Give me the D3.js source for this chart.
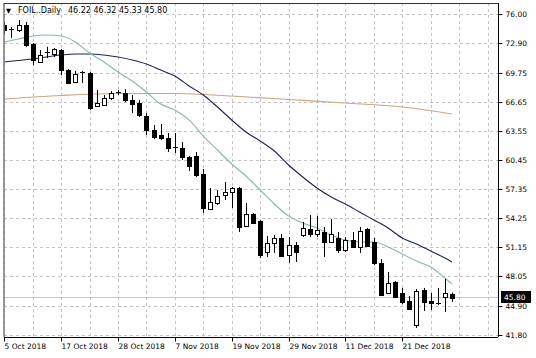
<!DOCTYPE html>
<html><head><meta charset="utf-8">
<script src="https://cdn.jsdelivr.net/npm/d3@7"></script>
<style>
body{margin:0;background:#fff}
svg{display:block}
text{font-family:"DejaVu Sans",sans-serif;font-size:7.5px;fill:#000}
</style></head>
<body><svg id="c" width="536" height="358"></svg>
<script>
// ---- data ----
const symbolTitle = "FOIL..Daily";
const lastQuote = ["46.22", "46.32", "45.33", "45.80"];
const openP  = [74.8,74.4,74.3,74.83,72.8,70.89,71.9,71.74,72.16,70.03,68.76,69.8,69.71,66.2,66.3,67.05,67.68,67.58,66.84,66.52,65.13,63.64,63.11,62.79,61.8,61.72,60.76,60.87,58.95,55.22,55.86,56.72,57.04,57.46,53.41,54.69,53.95,50.64,51.6,52.13,50.32,51.39,52.45,53.09,52.56,52.77,51.71,52.13,50.86,51.92,51.18,53.09,51.71,49.47,46.27,47.45,46.27,45.42,42.87,46.59,45.42,45.21,45.85,46.22];
const highP  = [75.2,74.6,75.36,75.15,72.9,72.16,72.5,72.38,72.27,70.14,69.93,69.93,69.82,67.9,67.37,67.8,67.9,68.0,67.37,66.84,65.45,64.17,64.28,63.32,63.32,62.36,60.87,61.3,59.49,57.46,57.25,58.1,57.57,57.57,55.86,54.8,54.05,52.35,52.45,52.56,52.24,51.71,53.84,54.58,54.48,53.31,54.16,52.77,52.24,52.77,53.31,53.2,52.13,49.9,48.51,47.55,46.81,45.95,46.7,46.81,46.27,46.81,47.77,46.32];
const lowP   = [73.9,73.45,74.08,72.5,70.57,70.78,71.3,71.42,69.5,68.54,68.65,68.65,65.77,66.09,66.2,66.84,67.37,66.62,65.45,65.03,63.11,62.68,62.58,61.3,61.19,60.44,59.27,58.63,54.8,55.1,55.65,56.18,55.33,52.77,53.31,53.63,50.0,50.11,50.54,50.11,49.47,49.58,52.24,52.24,52.24,50.11,51.6,50.54,50.64,51.07,50.54,51.18,49.26,45.95,46.17,45.74,45.1,44.46,42.55,44.36,44.46,45.0,44.25,45.33];
const closeP = [74.3,74.45,74.83,72.7,71.1,71.63,71.95,72.27,70.03,68.65,69.61,69.85,65.98,66.52,67.05,67.58,67.72,66.84,66.41,65.24,63.64,62.9,62.79,61.72,61.75,60.76,59.8,58.85,55.33,55.97,56.61,57.04,57.46,53.31,54.69,53.73,50.32,51.6,52.13,50.22,51.39,50.64,53.2,52.56,52.99,51.71,52.56,50.86,51.92,51.18,52.88,51.28,49.47,46.06,47.34,45.85,45.32,44.57,46.49,45.32,45.21,45.25,46.27,45.80];

const fastIdx = [0,2,4,6,8,10,12,14,16,18,20,22,24,26,28,30,32,34,36,38,40,42,44,46,48,50,52,54,56,58,60,62,63];
const fastMA  = [73.02,73.34,73.66,73.76,73.66,73.02,71.84,70.89,69.82,68.86,67.69,66.41,65.77,64.71,63.0,61.51,60.02,58.74,57.25,55.76,54.48,53.73,53.2,52.45,51.92,51.71,51.71,51.18,50.43,49.68,49.05,47.87,47.23];
const midIdx  = [0,4,8,10,12,14,16,18,20,22,24,26,28,30,32,34,36,38,40,42,44,46,48,50,52,54,56,58,60,62,63];
const midMA   = [70.89,71.21,71.63,71.74,71.74,71.63,71.42,71.1,70.67,70.03,69.39,68.33,67.37,66.09,64.71,63.43,62.47,61.4,59.91,58.63,57.46,56.5,55.76,54.9,54.05,53.2,52.13,51.5,50.75,50.0,49.58];
const slowIdx = [0,8,16,24,32,40,48,56,63];
const slowMA  = [66.94,67.32,67.53,67.53,67.26,66.89,66.52,66.09,65.35];

const priceTicks = [76.00,72.90,69.75,66.65,63.55,60.45,57.35,54.25,51.15,48.05,44.90,41.80];
const dateTickIdx = [0,8,16,24,32,40,48,56];
const dateLabels = ["5 Oct 2018","17 Oct 2018","28 Oct 2018","7 Nov 2018","19 Nov 2018","29 Nov 2018","11 Dec 2018","21 Dec 2018"];
const lastPrice = 45.80;

// ---- layout ----
const L = 4, R = 498, T = 3, B = 337;
const svg = d3.select("#c");
const x = d3.scaleLinear().domain([0, 63]).range([4.3, 452]);
const y = d3.scaleLinear().domain([41.8, 76.0]).range([335, 14]);
const px = v => Math.round(v) + 0.5;

svg.append("defs").append("clipPath").attr("id","clip")
  .append("rect").attr("x",L).attr("y",T).attr("width",R-L).attr("height",B-T);

const plot = svg.append("g").attr("clip-path","url(#clip)");

// grid
const gridV = d3.range(0, 69, 4);
plot.append("g").selectAll("line").data(gridV).join("line")
  .attr("x1", d => px(x(d))).attr("x2", d => px(x(d)))
  .attr("y1", T).attr("y2", B)
  .attr("stroke","#c4c4c4").attr("stroke-dasharray","3,3");
plot.append("g").selectAll("line").data(priceTicks).join("line")
  .attr("x1", L).attr("x2", R)
  .attr("y1", d => px(y(d))).attr("y2", d => px(y(d)))
  .attr("stroke","#c4c4c4").attr("stroke-dasharray","3,3");

// last price line
plot.append("line").attr("x1",L).attr("x2",R)
  .attr("y1",px(y(lastPrice))).attr("y2",px(y(lastPrice)))
  .attr("stroke","#c8c8c8");

// moving averages
const line = d3.line().x(d => x(d[0])).y(d => y(d[1])).curve(d3.curveMonotoneX);
plot.append("path").datum(slowIdx.map((d,i)=>[d,slowMA[i]]))
  .attr("d",line).attr("fill","none").attr("stroke","#c9a67f").attr("stroke-width",1.1);
plot.append("path").datum(midIdx.map((d,i)=>[d,midMA[i]]))
  .attr("d",line).attr("fill","none").attr("stroke","#1d2257").attr("stroke-width",1.1);
plot.append("path").datum(fastIdx.map((d,i)=>[d,fastMA[i]]))
  .attr("d",line).attr("fill","none").attr("stroke","#86b9a4").attr("stroke-width",1.1);

// candles
const idx = d3.range(openP.length);
const cg = plot.append("g");
cg.selectAll("line").data(idx).join("line")
  .attr("x1", i => px(x(i))).attr("x2", i => px(x(i)))
  .attr("y1", i => y(highP[i])).attr("y2", i => y(lowP[i]))
  .attr("stroke","#000");
cg.selectAll("rect").data(idx).join("rect")
  .attr("x", i => Math.round(x(i)) - 2 + 0.5)
  .attr("width", 4)
  .attr("y", i => Math.round(y(Math.max(openP[i], closeP[i]))) + 0.5)
  .attr("height", i => Math.max(0.01, Math.round(Math.abs(y(openP[i]) - y(closeP[i])))))
  .attr("fill", i => closeP[i] >= openP[i] ? "#fff" : "#000")
  .attr("stroke","#000");

// frame
svg.append("line").attr("x1",L).attr("x2",L).attr("y1",T).attr("y2",B).attr("stroke","#777").attr("stroke-width",1.5);
svg.append("line").attr("x1",L).attr("x2",R).attr("y1",T+0.5).attr("y2",T+0.5).attr("stroke","#333");

// right price axis
const yAxis = d3.axisRight(y).tickValues(priceTicks).tickFormat(d3.format(".2f")).tickSize(4).tickPadding(3);
const ya = svg.append("g").attr("transform",`translate(${R+0.5},0)`).call(yAxis);
ya.select(".domain").attr("stroke","#000").attr("d",`M0,${T}V${B}`);
ya.selectAll(".tick line").attr("stroke","#000");
ya.selectAll(".tick text").style("font-family","DejaVu Sans").style("font-size","7.5px").attr("fill","#000");
ya.selectAll(".tick").attr("transform", d => `translate(0,${px(y(d))})`);

// bottom date axis
const xAxis = d3.axisBottom(x).tickValues(dateTickIdx).tickFormat((d,i)=>dateLabels[i]).tickSize(4).tickPadding(2);
const xa = svg.append("g").attr("transform",`translate(0,${B+0.5})`).call(xAxis);
xa.select(".domain").attr("stroke","#000").attr("d",`M${L},0H${R}`);
xa.selectAll(".tick line").attr("stroke","#000");
xa.selectAll(".tick").attr("transform", d => `translate(${px(x(d))},0)`);
xa.selectAll(".tick text").attr("text-anchor","start").attr("x",0).style("font-family","DejaVu Sans").style("font-size","7.5px").attr("fill","#000");

// last price box
const ly = y(lastPrice);
svg.append("rect").attr("x",R+3).attr("y",Math.round(ly)-6).attr("width",30).attr("height",12).attr("fill","#000");
svg.append("text").attr("x",R+6).attr("y",ly).attr("dy","0.32em").attr("fill","#fff").style("fill","#fff").text(d3.format(".2f")(lastPrice));

// title
svg.append("text").attr("x",6).attr("y",13).style("font-size","6.5px").text("\u25BC");
svg.append("text").attr("x",18).attr("y",13).style("font-size","8px").text(symbolTitle);
svg.append("text").attr("x",68).attr("y",13).style("font-size","8px").text(lastQuote.join(" "));
</script></body></html>
